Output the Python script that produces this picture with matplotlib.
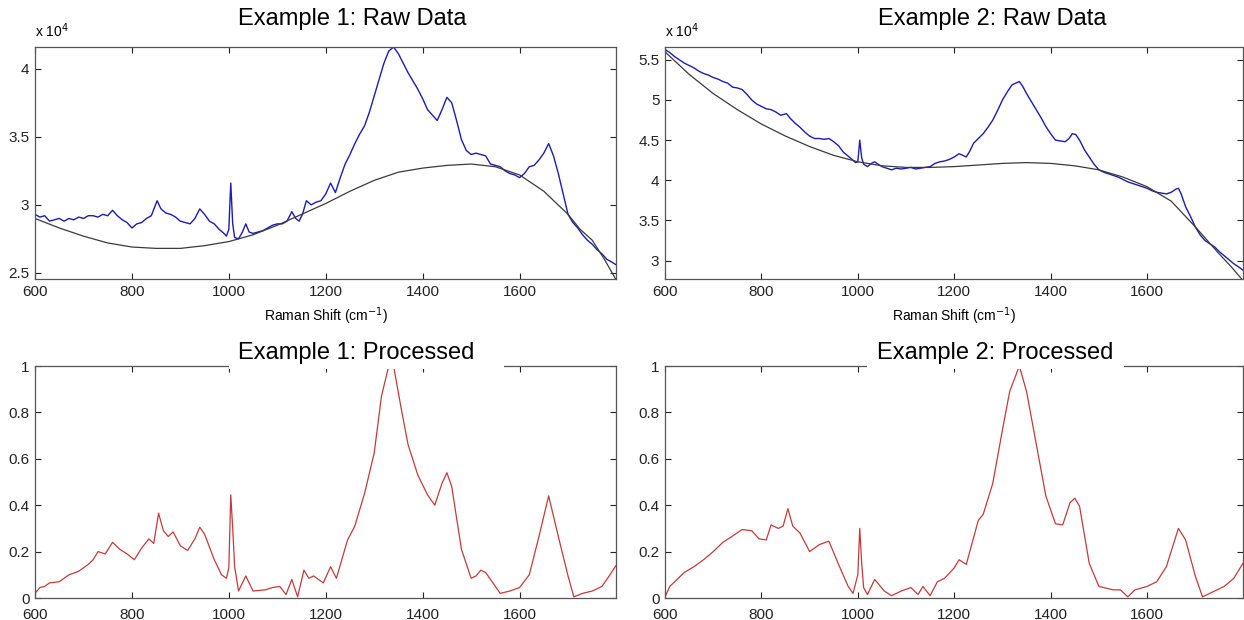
import matplotlib.pyplot as plt
from matplotlib.patches import Rectangle
from matplotlib.ticker import FuncFormatter

plt.rcParams['font.family'] = ['Liberation Sans', 'DejaVu Sans']

# Example 1 raw spectrum (x 10^4 counts)
raw1_x = [600, 610, 620, 630, 640, 650, 660, 670, 680, 690, 700, 710, 720, 730, 740, 750,
          760, 770, 780, 790, 800, 810, 820, 830, 840, 852, 860, 870, 880, 890, 900, 910,
          920, 930, 940, 950, 960, 970, 980, 990, 995, 1000, 1004, 1008, 1012, 1020, 1028,
          1035, 1042, 1050, 1060, 1070, 1080, 1090, 1100, 1110, 1120, 1130, 1138, 1145,
          1152, 1160, 1170, 1180, 1190, 1200, 1210, 1220, 1230, 1240, 1250, 1260, 1270,
          1280, 1290, 1300, 1310, 1320, 1330, 1340, 1350, 1360, 1370, 1380, 1390, 1400,
          1410, 1420, 1430, 1440, 1450, 1460, 1470, 1480, 1490, 1500, 1510, 1520, 1530,
          1540, 1550, 1560, 1570, 1580, 1590, 1600, 1610, 1620, 1630, 1640, 1650, 1660,
          1670, 1680, 1690, 1700, 1710, 1720, 1730, 1740, 1750, 1760, 1770, 1780, 1790, 1799]
raw1_y = [2.93, 2.91, 2.92, 2.88, 2.89, 2.90, 2.88, 2.90, 2.89, 2.91, 2.90, 2.92, 2.92, 2.91,
          2.93, 2.92, 2.96, 2.92, 2.89, 2.87, 2.83, 2.86, 2.87, 2.90, 2.92, 3.03, 2.97, 2.94,
          2.93, 2.91, 2.88, 2.87, 2.86, 2.90, 2.97, 2.93, 2.88, 2.86, 2.82, 2.79, 2.77, 2.82,
          3.16, 2.86, 2.76, 2.75, 2.80, 2.86, 2.80, 2.79, 2.80, 2.81, 2.83, 2.85, 2.86, 2.86,
          2.88, 2.95, 2.90, 2.88, 2.93, 3.03, 3.00, 3.02, 3.03, 3.08, 3.16, 3.09, 3.20, 3.30,
          3.37, 3.45, 3.52, 3.58, 3.68, 3.80, 3.92, 4.04, 4.13, 4.16, 4.11, 4.04, 3.97, 3.91,
          3.85, 3.78, 3.70, 3.66, 3.62, 3.70, 3.79, 3.75, 3.62, 3.48, 3.40, 3.37, 3.38, 3.37,
          3.36, 3.30, 3.29, 3.28, 3.25, 3.23, 3.22, 3.20, 3.23, 3.28, 3.29, 3.33, 3.38, 3.45,
          3.36, 3.23, 3.08, 2.93, 2.87, 2.83, 2.78, 2.74, 2.71, 2.67, 2.64, 2.60, 2.58, 2.56]

# Example 1 fitted baseline
base1_x = [600, 650, 700, 750, 800, 850, 900, 950, 1000, 1050, 1100, 1150, 1200, 1250,
           1300, 1350, 1400, 1450, 1500, 1550, 1600, 1650, 1700, 1725, 1750, 1775, 1799]
base1_y = [2.90, 2.83, 2.77, 2.72, 2.69, 2.68, 2.68, 2.70, 2.73, 2.78, 2.85, 2.93, 3.01,
           3.10, 3.18, 3.24, 3.27, 3.29, 3.30, 3.28, 3.22, 3.10, 2.93, 2.82, 2.74, 2.60, 2.45]

# Example 2 raw spectrum (x 10^4 counts)
raw2_x = [600, 610, 620, 630, 640, 650, 660, 670, 680, 690, 700, 710, 720, 730, 740, 750,
          760, 770, 780, 790, 800, 810, 820, 830, 840, 852, 860, 870, 880, 890, 900, 910,
          920, 930, 940, 950, 960, 970, 980, 990, 995, 1000, 1004, 1008, 1012, 1020, 1028,
          1035, 1042, 1050, 1060, 1070, 1080, 1090, 1100, 1110, 1120, 1130, 1140, 1150,
          1160, 1170, 1180, 1190, 1200, 1210, 1218, 1225, 1232, 1240, 1250, 1260, 1270,
          1280, 1290, 1300, 1310, 1320, 1328, 1335, 1342, 1350, 1360, 1370, 1380, 1390,
          1400, 1410, 1420, 1430, 1438, 1445, 1452, 1460, 1470, 1480, 1490, 1500, 1510,
          1520, 1530, 1540, 1550, 1560, 1570, 1580, 1590, 1600, 1610, 1620, 1630, 1640,
          1650, 1660, 1665, 1670, 1680, 1690, 1700, 1710, 1720, 1730, 1740, 1750, 1760,
          1770, 1780, 1790, 1799]
raw2_y = [5.63, 5.59, 5.54, 5.50, 5.46, 5.43, 5.40, 5.36, 5.33, 5.31, 5.28, 5.26, 5.23, 5.21,
          5.16, 5.15, 5.13, 5.07, 5.00, 4.95, 4.92, 4.89, 4.88, 4.85, 4.81, 4.83, 4.77, 4.71,
          4.66, 4.60, 4.55, 4.52, 4.52, 4.51, 4.52, 4.48, 4.43, 4.35, 4.30, 4.25, 4.22, 4.23,
          4.50, 4.28, 4.20, 4.17, 4.21, 4.23, 4.20, 4.17, 4.15, 4.13, 4.15, 4.14, 4.15, 4.16,
          4.14, 4.15, 4.16, 4.17, 4.21, 4.23, 4.24, 4.26, 4.29, 4.33, 4.31, 4.29, 4.36, 4.46,
          4.52, 4.58, 4.66, 4.75, 4.87, 5.00, 5.10, 5.19, 5.21, 5.23, 5.17, 5.08, 4.98, 4.88,
          4.78, 4.67, 4.58, 4.50, 4.49, 4.48, 4.52, 4.58, 4.57, 4.50, 4.38, 4.29, 4.20, 4.13,
          4.10, 4.08, 4.06, 4.04, 4.01, 3.98, 3.96, 3.94, 3.92, 3.90, 3.87, 3.85, 3.84, 3.83,
          3.85, 3.89, 3.90, 3.84, 3.67, 3.55, 3.42, 3.32, 3.25, 3.21, 3.17, 3.11, 3.06, 3.01,
          2.96, 2.92, 2.88]

# Example 2 fitted baseline
base2_x = [600, 650, 700, 750, 800, 850, 900, 950, 1000, 1050, 1100, 1150, 1200, 1250,
           1300, 1350, 1400, 1450, 1500, 1550, 1600, 1650, 1700, 1725, 1750, 1775, 1799]
base2_y = [5.60, 5.32, 5.08, 4.88, 4.70, 4.55, 4.42, 4.31, 4.23, 4.18, 4.16, 4.16, 4.17,
           4.19, 4.21, 4.22, 4.21, 4.18, 4.13, 4.04, 3.92, 3.74, 3.42, 3.25, 3.08, 2.92, 2.75]

# Processed spectra (normalised)
proc1_x = [600, 610, 620, 630, 650, 670, 690, 710, 720, 730, 745, 760, 775, 790, 805, 820,
           835, 845, 855, 865, 875, 885, 900, 915, 930, 940, 950, 970, 985, 995, 1000, 1004,
           1008, 1012, 1020, 1035, 1050, 1075, 1090, 1105, 1118, 1130, 1142, 1155, 1165,
           1175, 1195, 1210, 1222, 1245, 1260, 1280, 1300, 1315, 1330, 1340, 1355, 1370,
           1390, 1410, 1425, 1440, 1450, 1460, 1480, 1500, 1510, 1520, 1530, 1545, 1560,
           1580, 1600, 1620, 1640, 1660, 1680, 1700, 1712, 1730, 1750, 1770, 1785, 1799]
proc1_y = [0.02, 0.045, 0.05, 0.065, 0.07, 0.10, 0.115, 0.145, 0.165, 0.20, 0.19, 0.24,
           0.21, 0.19, 0.165, 0.215, 0.255, 0.235, 0.365, 0.29, 0.265, 0.285, 0.225, 0.205,
           0.255, 0.305, 0.275, 0.165, 0.10, 0.085, 0.13, 0.445, 0.30, 0.135, 0.03, 0.095,
           0.03, 0.035, 0.045, 0.05, 0.015, 0.08, 0.005, 0.12, 0.085, 0.095, 0.065, 0.135,
           0.085, 0.25, 0.31, 0.45, 0.625, 0.87, 1.0, 1.0, 0.825, 0.66, 0.53, 0.445, 0.40,
           0.495, 0.54, 0.48, 0.21, 0.085, 0.095, 0.12, 0.11, 0.065, 0.02, 0.03, 0.045,
           0.10, 0.265, 0.44, 0.265, 0.095, 0.005, 0.02, 0.03, 0.05, 0.095, 0.14]

proc2_x = [600, 610, 625, 640, 660, 680, 700, 720, 735, 760, 780, 795, 810, 820, 835, 845,
           855, 865, 880, 900, 920, 940, 960, 980, 990, 1000, 1004, 1008, 1012, 1020, 1035,
           1055, 1070, 1090, 1110, 1125, 1135, 1150, 1165, 1180, 1200, 1210, 1225, 1250,
           1260, 1280, 1300, 1315, 1335, 1350, 1370, 1390, 1410, 1425, 1440, 1450, 1460,
           1480, 1500, 1530, 1545, 1560, 1575, 1600, 1620, 1640, 1665, 1680, 1700, 1715,
           1740, 1760, 1780, 1799]
proc2_y = [0.005, 0.05, 0.08, 0.11, 0.135, 0.165, 0.20, 0.24, 0.26, 0.295, 0.29, 0.255,
           0.25, 0.315, 0.30, 0.31, 0.385, 0.31, 0.28, 0.20, 0.23, 0.245, 0.145, 0.05, 0.02,
           0.10, 0.30, 0.15, 0.045, 0.015, 0.08, 0.03, 0.01, 0.03, 0.045, 0.015, 0.05, 0.01,
           0.07, 0.085, 0.13, 0.165, 0.145, 0.335, 0.36, 0.495, 0.725, 0.89, 1.0, 0.89,
           0.665, 0.44, 0.32, 0.315, 0.41, 0.43, 0.395, 0.15, 0.05, 0.035, 0.035, 0.005,
           0.035, 0.05, 0.07, 0.135, 0.30, 0.25, 0.095, 0.005, 0.03, 0.05, 0.085, 0.15]

x_ticks = [600, 800, 1000, 1200, 1400, 1600]
raw1_ticks = [2.5, 3, 3.5, 4]
raw2_ticks = [3, 3.5, 4, 4.5, 5, 5.5]
proc_ticks = [0, 0.2, 0.4, 0.6, 0.8, 1]

BLUE = '#1c1cb0'
GREY = '#3a3a3a'
RED = '#c43a3a'

fig = plt.figure(figsize=(12.44, 6.2), dpi=100)
W, H = 1244, 620


def make_axes(left, top, right, bottom):
    return fig.add_axes([left / W, 1 - bottom / H, (right - left) / W, (bottom - top) / H])


ax1 = make_axes(35, 47, 616, 279)
ax2 = make_axes(665, 47, 1243, 279)
ax3 = make_axes(35, 366, 616, 598)
ax4 = make_axes(665, 366, 1243, 598)

ax1.plot(raw1_x, raw1_y, color=BLUE, lw=1.0)
ax1.plot(base1_x, base1_y, color=GREY, lw=0.9)
ax2.plot(raw2_x, raw2_y, color=BLUE, lw=1.0)
ax2.plot(base2_x, base2_y, color=GREY, lw=0.9)
ax3.plot(proc1_x, proc1_y, color=RED, lw=0.9)
ax4.plot(proc2_x, proc2_y, color=RED, lw=0.9)

ax1.set_ylim(2.455, 4.16)
ax2.set_ylim(2.77, 5.66)
ax3.set_ylim(0, 1)
ax4.set_ylim(0, 1)
ax1.set_yticks(raw1_ticks)
ax2.set_yticks(raw2_ticks)
ax3.set_yticks(proc_ticks)
ax4.set_yticks(proc_ticks)

fmt = FuncFormatter(lambda v, p: f'{v:g}')
for ax in (ax1, ax2, ax3, ax4):
    ax.set_xlim(600, 1799)
    ax.set_xticks(x_ticks)
    ax.yaxis.set_major_formatter(fmt)
    ax.tick_params(direction='in', top=True, right=True, length=4, width=0.8,
                   labelsize=11, pad=4, colors='#222222')
    for s in ax.spines.values():
        s.set_color('#555555')
        s.set_linewidth(0.9)

# lower plots: keep the x labels clear of the "0" on the y axis
for ax in (ax3, ax4):
    ax.tick_params(axis='x', pad=7)

ax1.set_title('Example 1: Raw Data', fontsize=17, x=0.546, pad=16)
ax2.set_title('Example 2: Raw Data', fontsize=17, x=0.567, pad=16)
ax3.set_title('Example 1: Processed', fontsize=17, x=0.553, pad=5)
ax4.set_title('Example 2: Processed', fontsize=17, x=0.571, pad=5)

for ax in (ax1, ax2):
    ax.set_xlabel('Raman Shift (cm$^{-1}$)', fontsize=10, labelpad=5)
    ax.text(0, 1.03, 'x 10$^4$', transform=ax.transAxes, fontsize=10,
            ha='left', va='bottom')

# title backgrounds cover the top frame line of the lower plots
ax3.add_patch(Rectangle((0.334, 0.985), 0.473, 0.05, transform=ax3.transAxes,
                        facecolor='white', edgecolor='none', clip_on=False, zorder=3))
ax4.add_patch(Rectangle((0.349, 0.985), 0.445, 0.05, transform=ax4.transAxes,
                        facecolor='white', edgecolor='none', clip_on=False, zorder=3))

fig.savefig('out.png', dpi=100)
